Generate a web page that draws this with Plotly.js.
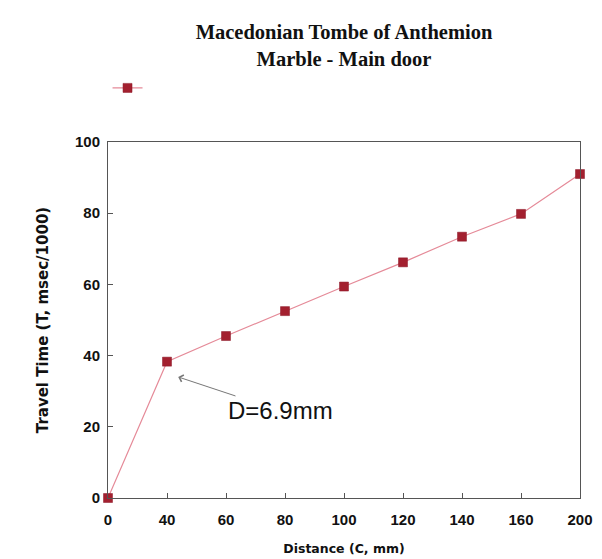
<!DOCTYPE html>
<html>
<head>
<meta charset="utf-8">
<script src="https://cdn.plot.ly/plotly-3.0.1.min.js"></script>
<style>html,body{margin:0;padding:0;background:#fff;}#chart{width:602px;height:559px;}</style>
</head>
<body>
<div id="chart"></div>
<script>
const distances = ["0", "40", "60", "80", "100", "120", "140", "160", "200"];
const travelTimes = [0, 38.3, 45.5, 52.5, 59.4, 66.2, 73.4, 79.8, 91.0];
const yTicks = [0, 20, 40, 60, 80, 100];

const trace = {
  x: distances,
  y: travelTimes,
  type: 'scatter',
  mode: 'lines+markers',
  name: ' ',
  line: {color: '#e58a98', width: 1.2},
  marker: {symbol: 'square', size: 9, color: '#a3202f', line: {color: '#8a1525', width: 0.5}},
  cliponaxis: false
};

const tickFont = {family: 'Liberation Sans, Arial, sans-serif', size: 15, color: '#111', weight: 'bold'};

const layout = {
  width: 602,
  height: 559,
  margin: {l: 108, r: 22, t: 142, b: 61},
  paper_bgcolor: '#ffffff',
  plot_bgcolor: '#ffffff',
  title: {
    text: 'Macedonian Tombe of Anthemion<br>Marble - Main door',
    font: {family: 'Liberation Serif, Times New Roman, serif', size: 20.5, color: '#111', weight: 'bold'},
    x: 0.5, xref: 'paper', xanchor: 'center',
    y: 0.93, yref: 'container', yanchor: 'middle'
  },
  showlegend: true,
  legend: {x: -0.001, xanchor: 'left', y: 1.152, yanchor: 'middle', bgcolor: 'rgba(0,0,0,0)', font: {size: 12}},
  xaxis: {
    type: 'category',
    range: [0, 8],
    showgrid: false,
    zeroline: false,
    showline: true,
    linecolor: '#555',
    linewidth: 1,
    mirror: true,
    ticks: 'inside',
    ticklen: 5,
    tickcolor: '#555',
    tickfont: tickFont,
    ticklabelstandoff: 8,
    title: {text: 'Distance (C, mm)', font: {family: 'DejaVu Sans, sans-serif', size: 12.5, color: '#111', weight: 'bold'}, standoff: 17}
  },
  yaxis: {
    range: [0, 100],
    tickvals: yTicks,
    showgrid: false,
    zeroline: false,
    showline: true,
    linecolor: '#555',
    linewidth: 1,
    mirror: true,
    ticks: 'inside',
    ticklen: 5,
    tickcolor: '#555',
    tickfont: tickFont,
    ticklabelstandoff: 4,
    title: {text: 'Travel Time (T, msec/1000)', font: {family: 'DejaVu Sans, sans-serif', size: 15, color: '#111', weight: 'bold'}, standoff: 22}
  },
  annotations: [{
    x: 1.19, y: 34, xref: 'x', yref: 'y',
    text: 'D=6.9mm',
    font: {family: 'Liberation Sans, Arial, sans-serif', size: 24, color: '#111'},
    showarrow: true,
    arrowhead: 4,
    arrowsize: 1.4,
    arrowwidth: 1,
    arrowcolor: '#777',
    ax: 102.5, ay: 34
  }]
};

Plotly.newPlot('chart', [trace], layout, {displayModeBar: false, staticPlot: true});
</script>
</body>
</html>
